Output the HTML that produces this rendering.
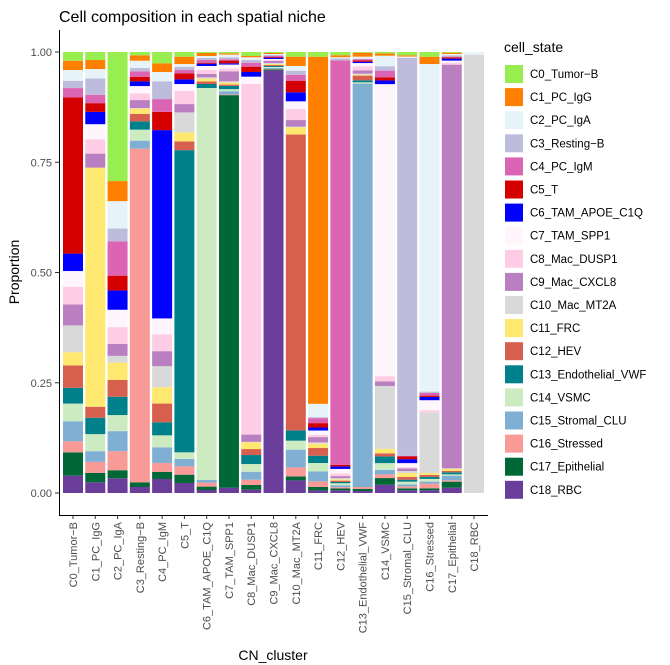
<!DOCTYPE html>
<html><head><meta charset="utf-8"><style>
body{margin:0;background:#fff;}
svg{display:block;font-family:"Liberation Sans",sans-serif;}
</style></head><body>
<svg id="chart" width="670" height="665" viewBox="0 0 670 665">
<text x="59" y="22" font-size="16" fill="#000">Cell composition in each spatial niche</text>
<g id="bars"></g><g id="axes"></g><g id="legend"></g>
<text x="273" y="660" font-size="14" text-anchor="middle" fill="#000">CN_cluster</text>
<text transform="translate(19,272) rotate(-90)" font-size="14" text-anchor="middle" fill="#000">Proportion</text>
</svg>
<script>
const clusters = ["C0_Tumor−B","C1_PC_IgG","C2_PC_IgA","C3_Resting−B","C4_PC_IgM","C5_T","C6_TAM_APOE_C1Q","C7_TAM_SPP1","C8_Mac_DUSP1","C9_Mac_CXCL8","C10_Mac_MT2A","C11_FRC","C12_HEV","C13_Endothelial_VWF","C14_VSMC","C15_Stromal_CLU","C16_Stressed","C17_Epithelial","C18_RBC"];
const cellStates = ["C0_Tumor−B","C1_PC_IgG","C2_PC_IgA","C3_Resting−B","C4_PC_IgM","C5_T","C6_TAM_APOE_C1Q","C7_TAM_SPP1","C8_Mac_DUSP1","C9_Mac_CXCL8","C10_Mac_MT2A","C11_FRC","C12_HEV","C13_Endothelial_VWF","C14_VSMC","C15_Stromal_CLU","C16_Stressed","C17_Epithelial","C18_RBC"];
const colors = ["#98ED4F","#FF8000","#E6F3F8","#BDBCDC","#DC64B4","#D40000","#0000FF","#FFF5FD","#FFCCE6","#BA7FC0","#D9D9D9","#FFE870","#D6604D","#00808A","#CDEBC1","#7FB0D4","#F89A96","#006837","#6A3D9A"];
const comp_C0 = [8.7,9.3,10.7,7.3,9.3,156,17.4,15.6,17.7,21,26.7,13.3,22.3,15.7,17.7,20,11,23.3,17.3];
const comp_C1 = [8,9,9.3,16.4,8.3,8.7,12.3,15,14.3,14,0,238.4,11,16.3,17,10.7,11,9.3,10.7];
const comp_C2 = [128.7,20,27.3,12.7,34.3,14.7,19.3,17.3,16.7,12,6.7,17.3,16.7,18.3,16,20,19,8,14.7];
const comp_C3 = [3.3,5.4,7.3,3.3,5.4,4.6,4.7,7.3,6.7,8,0.5,5.3,7.4,8.3,11,8,333,4.7,6];
const comp_C4 = [11.3,8.7,9.3,17.7,12.7,18.3,188,16,16.7,15,21,16.3,18.7,13,12,15.6,9,7,14];
const comp_C5 = [4.7,7.3,2.7,3.3,3.3,6,4.7,6.7,13.3,8.3,20,9,8.7,301.7,6.6,7.4,8.3,8.3,10];
const comp_C6 = [1,3,2,2,2.7,1,2.3,4,4,3.4,1.3,2.7,2.6,4,392,2.6,4,3.4,3];
const comp_C7 = [1.3,1.3,2.7,2,1.3,2.7,1.3,4,2.7,10,1.3,2,1.3,3.3,2,3.3,0.7,393,5.3];
const comp_C8 = [4,1.3,2.7,2.7,4,5.3,4.7,7.3,351,7.3,0.5,6.7,6,9,7.7,8,5.3,4.7,3.3];
const comp_C9 = [1,1,1,1,1,0.7,1.3,1,1,2,1,1,1,1,1,1,0.5,1,424];
const comp_C10 = [4.7,9.3,4.7,4,6,11.6,9,7.7,11,6.7,0.5,7.3,295.7,10.3,9,17.7,9,4,12.6];
const comp_C11 = [4.7,347.3,13.3,1,5,4.4,3,4.3,2.3,5.3,1.3,4.3,7.7,7.3,8.4,10,5.6,3.4,2.6];
const comp_C12 = [3.3,2,1.3,2,415,1.7,2.6,4.7,2.7,2,1.3,1.3,1.4,1.3,2,2,1.3,2,2.7];
const comp_C13 = [0.7,4,2,0.5,1.3,1.3,1.3,3.3,4,3.3,1.3,0.7,4.7,2,1.3,405,2,2,2];
const comp_C14 = [1.3,2,9.3,4,6,2.7,3.3,260,4.7,4,56,4,2.7,6,6,4,3.3,6,7.3];
const comp_C15 = [3.3,1.3,1.3,401,0.7,2.7,4,4,1.3,2.7,2,4,2.7,2,2.7,2,2,2,2.7];
const comp_C16 = [4.7,7.3,327.6,1.3,2.7,1.3,3.3,10,2,0,60.7,2,2,2,2.7,2,4.7,2,2.7];
const comp_C17 = [0.7,1.3,1.3,1.3,0.7,1.3,2,2,2,402,0.7,2,1.3,2,1.3,4.7,1.3,6,5.3];
const comp_C18 = [0,0,2.7,0,0,0,0,0,0,0,438,0,0,0,0,0,0,0,0];
const compositions = [comp_C0,comp_C1,comp_C2,comp_C3,comp_C4,comp_C5,comp_C6,comp_C7,comp_C8,comp_C9,comp_C10,comp_C11,comp_C12,comp_C13,comp_C14,comp_C15,comp_C16,comp_C17,comp_C18];
const yTicks = [0,0.25,0.5,0.75,1];
const yTickLabels = ["0.00","0.25","0.50","0.75","1.00"];

const NS="http://www.w3.org/2000/svg";
const step=22.28, x0=73;
function xPos(i){return x0+i*step;}
function yPos(v){return 493-v*441;}
function mk(t,a){const e=document.createElementNS(NS,t);for(const k in a)e.setAttribute(k,a[k]);return e;}
const gB=document.getElementById('bars'), gA=document.getElementById('axes'), gL=document.getElementById('legend');
const bw=20;
compositions.forEach((row,i)=>{
  const tot=row.reduce((a,b)=>a+b,0);
  let cum=0;
  for(let s=row.length-1;s>=0;s--){
    const v=row[s]/tot; if(v<=0)continue;
    const y1=yPos(cum), y2=yPos(cum+v);
    const r=mk('rect',{x:xPos(i)-bw/2,y:y2,width:bw,height:y1-y2,fill:colors[s]});
    
    
    gB.appendChild(r);
    cum+=v;
  }
  const tk=mk('line',{x1:xPos(i),x2:xPos(i),y1:515,y2:519,stroke:'#333'});
  
  
  gA.appendChild(tk);
  const t=mk('text',{transform:`translate(${xPos(i)+4},522) rotate(-90)`,'font-size':11,'text-anchor':'end',fill:'#4d4d4d'});
  t.textContent=clusters[i];
  
  
  gA.appendChild(t);
});
yTicks.forEach((v,i)=>{
  const tk=mk('line',{x1:55,x2:59,y1:yPos(v),y2:yPos(v),stroke:'#333'});
  
  
  gA.appendChild(tk);
  const t=mk('text',{x:52,y:yPos(v)+4,'font-size':11,'text-anchor':'end',fill:'#4d4d4d'});
  t.textContent=yTickLabels[i];
  
  
  gA.appendChild(t);
});
const ax=mk('path',{d:'M59.5 30 V515.5 H488',fill:'none',stroke:'#000','stroke-width':1});


gA.appendChild(ax);
const lt=mk('text',{x:504,y:52,'font-size':14,fill:'#000'});
lt.textContent='cell_state';


gL.appendChild(lt);
cellStates.forEach((s,i)=>{
  const y=74+i*23.1;
  const r=mk('rect',{x:505,y:y-9,width:18,height:18,fill:colors[i]});
  
  
  gL.appendChild(r);
  const t=mk('text',{x:530,y:y+4,'font-size':11.5,fill:'#000'});
  t.textContent=s;
  
  
  gL.appendChild(t);
});
</script>
</body></html>
